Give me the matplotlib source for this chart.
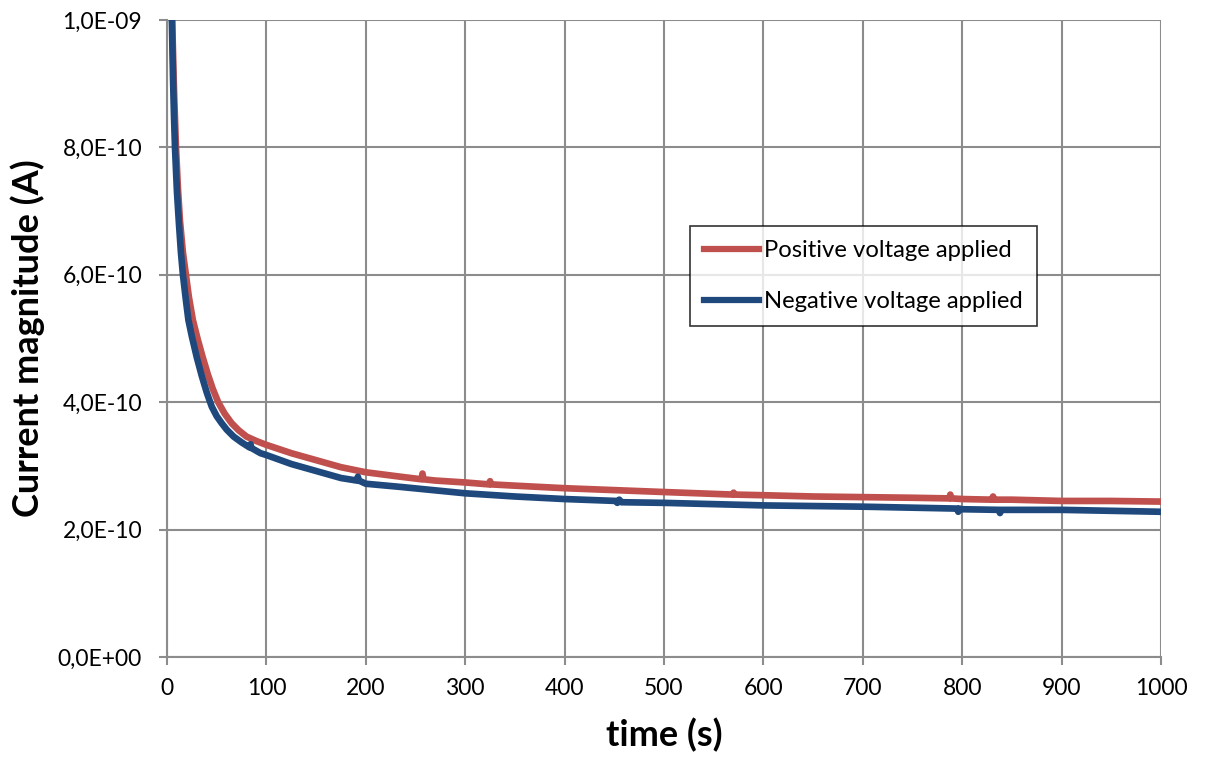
import matplotlib.pyplot as plt
from matplotlib.ticker import FuncFormatter

# current decay after switching the bias on (values in 1e-10 A)
t_pos = [3, 5, 7, 9, 11, 13, 16, 19, 22, 26, 31, 36, 41, 46, 51.5, 58, 65,
         72, 80, 90, 100, 125, 150, 175, 200, 235, 256, 257, 258, 270, 300,
         324, 325, 326, 350, 400, 450, 500, 569, 570, 571, 600, 650, 700,
         750, 787, 788, 789, 800, 830, 831, 832, 850, 900, 950, 1000]
i_pos = [12.5, 10.1, 8.9, 8.0, 7.35, 6.85, 6.35, 6.0, 5.65, 5.29, 4.98, 4.70,
         4.44, 4.21, 4.0, 3.82, 3.67, 3.56, 3.46, 3.39, 3.33, 3.2, 3.09, 2.98,
         2.90, 2.83, 2.79, 2.88, 2.79, 2.77, 2.74, 2.71, 2.76, 2.71, 2.69,
         2.65, 2.62, 2.59, 2.55, 2.58, 2.55, 2.54, 2.52, 2.51, 2.50, 2.49,
         2.55, 2.49, 2.48, 2.47, 2.52, 2.47, 2.47, 2.45, 2.45, 2.44]

t_neg = [3, 4, 5, 6, 7, 8, 10, 12, 14, 16, 19, 21.5, 25, 30, 35, 40, 45, 50,
         55, 60, 67, 75, 83, 84, 85, 94, 100, 125, 150, 175, 191, 192, 193,
         200, 235, 300, 350, 400, 452, 453, 455, 457, 500, 600, 700, 795,
         796, 797, 800, 837, 838, 839, 900, 1000]
i_neg = [12.3, 11.0, 9.9, 9.1, 8.5, 8.0, 7.3, 6.8, 6.35, 6.0, 5.6, 5.29,
         5.03, 4.70, 4.41, 4.15, 3.93, 3.78, 3.67, 3.57, 3.46, 3.37, 3.29,
         3.34, 3.28, 3.20, 3.17, 3.03, 2.92, 2.81, 2.77, 2.83, 2.77, 2.72,
         2.67, 2.57, 2.52, 2.48, 2.45, 2.42, 2.47, 2.43, 2.42, 2.38, 2.36,
         2.33, 2.28, 2.33, 2.32, 2.31, 2.26, 2.31, 2.31, 2.28]

x_ticks = [0, 100, 200, 300, 400, 500, 600, 700, 800, 900, 1000]
y_ticks = [0, 2e-10, 4e-10, 6e-10, 8e-10, 1e-9]

labels = ['Positive voltage applied', 'Negative voltage applied']
colors = ['#C0504D', '#1F497D']

plt.rcParams['font.family'] = ['Lato', 'DejaVu Sans']

fig = plt.figure(figsize=(12.06, 7.6), dpi=100)
ax = fig.add_axes([0.1385, 0.1355, 0.8242, 0.8382])

ax.plot(t_pos, [v * 1e-10 for v in i_pos], color=colors[0], lw=4.8,
        label=labels[0], solid_joinstyle='round', zorder=3)
ax.plot(t_neg, [v * 1e-10 for v in i_neg], color=colors[1], lw=4.8,
        label=labels[1], solid_joinstyle='round', zorder=4)

ax.set_xlim(0, 1000)
ax.set_ylim(0, 1e-9)
ax.set_xticks(x_ticks)
ax.set_yticks(y_ticks)
ax.yaxis.set_major_formatter(
    FuncFormatter(lambda v, pos: f'{v:.1E}'.replace('.', ',')))

grid_col = '#8c8c8c'
ax.grid(True, color=grid_col, lw=1.5)
ax.set_axisbelow(True)
for side in ['top', 'right']:
    ax.spines[side].set_visible(False)
for side in ['left', 'bottom']:
    ax.spines[side].set_color(grid_col)
    ax.spines[side].set_linewidth(1.5)
ax.tick_params(direction='out', length=6, width=1.5, color=grid_col,
               labelsize=16.5)
ax.tick_params(axis='y', pad=12)
ax.tick_params(axis='x', pad=9)

ax.set_xlabel('time (s)', fontsize=26, fontweight='bold', labelpad=14)
ax.set_ylabel('Current magnitude (A)', fontsize=26, fontweight='bold',
              labelpad=9)

leg = ax.legend(loc='upper left', bbox_to_anchor=(0.526, 0.677),
                borderaxespad=0, fontsize=17.2, frameon=True, fancybox=False,
                handlelength=2.3, borderpad=0.6, labelspacing=1.25,
                handletextpad=0.2)
leg.get_frame().set_edgecolor('black')
leg.get_frame().set_linewidth(1.2)
for line in leg.get_lines():
    line.set_linewidth(4.5)

fig.savefig('out.png', dpi=100)
